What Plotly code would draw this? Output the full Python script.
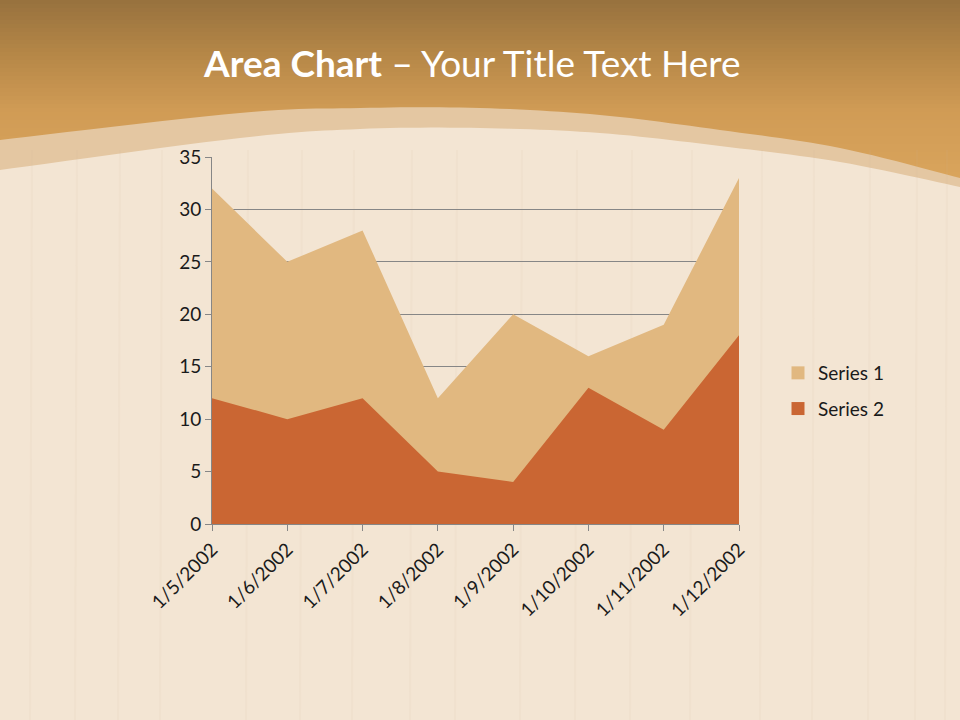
import plotly.graph_objects as go
import numpy as np

categories = ["1/5/2002", "1/6/2002", "1/7/2002", "1/8/2002",
              "1/9/2002", "1/10/2002", "1/11/2002", "1/12/2002"]
series1 = [32, 25, 28, 12, 20, 16, 19, 33]
series2 = [12, 10, 12, 5, 4, 13, 9, 18]
y_ticks = [0, 5, 10, 15, 20, 25, 30, 35]

W, H = 960, 720
L, R, T, B = 212, 739, 157, 524
FONT = "Lato"

def px(x):
    return (x - L) / (R - L)

def py(y):
    return (B - y) / (B - T)

def hexmix(c1, c2, t):
    a = [int(c1[i:i + 2], 16) for i in (1, 3, 5)]
    b = [int(c2[i:i + 2], 16) for i in (1, 3, 5)]
    return "#" + "".join(f"{round(a[k] + (b[k] - a[k]) * t):02x}" for k in range(3))

def grad_color(y):
    stops = [(0, "#97713e"), (60, "#b88948"), (110, "#d09b55"), (200, "#dca75e")]
    for (ya, ca), (yb, cb) in zip(stops, stops[1:]):
        if y <= yb:
            return hexmix(ca, cb, (y - ya) / (yb - ya))
    return stops[-1][1]

def smooth_path(pts, n=12):
    pts = [pts[0]] + pts + [pts[-1]]
    out = []
    for i in range(1, len(pts) - 2):
        p0, p1, p2, p3 = [np.array(p, float) for p in pts[i - 1:i + 3]]
        for t in np.linspace(0, 1, n, endpoint=False):
            t2, t3 = t * t, t * t * t
            q = 0.5 * ((2 * p1) + (-p0 + p2) * t + (2 * p0 - 5 * p1 + 4 * p2 - p3) * t2
                       + (-p0 + 3 * p1 - 3 * p2 + p3) * t3)
            out.append(q)
    out.append(np.array(pts[-2], float))
    return out

def arc_shape(pts, color):
    curve = smooth_path(pts)
    d = "M " + " L ".join(f"{px(x):.5f},{py(y):.5f}" for x, y in curve)
    d += f" L {px(W + 5):.5f},{py(H + 5):.5f} L {px(-5):.5f},{py(H + 5):.5f} Z"
    return dict(type="path", xref="paper", yref="paper", path=d,
                fillcolor=color, line=dict(width=0), layer="below")

shapes = []
# orange gradient header
steps = 50
for i in range(steps):
    y0 = i * 200 / steps
    y1 = (i + 1) * 200 / steps + 0.6
    shapes.append(dict(type="rect", xref="paper", yref="paper",
                       x0=px(-5), x1=px(W + 5), y0=py(y1), y1=py(y0),
                       fillcolor=grad_color((y0 + y1) / 2),
                       line=dict(width=0), layer="below"))

outer = [(-5, 141), (0, 140), (240, 113), (360, 108), (480, 108), (600, 115),
         (720, 130), (840, 148), (960, 178), (965, 179)]
inner = [(-5, 171), (0, 170), (240, 138), (360, 129), (480, 128), (600, 133),
         (720, 146), (840, 162), (960, 187), (965, 188)]
shapes.append(arc_shape(outer, "#e4c7a2"))
shapes.append(arc_shape(inner, "#f3e5d3"))

# subtle wood grain
grain_x = [30, 75, 118, 160, 246, 300, 352, 410, 455, 520, 575, 630, 690, 760, 812, 868, 915, 945]
for gx in grain_x:
    shapes.append(dict(type="line", xref="paper", yref="paper",
                       x0=px(gx), x1=px(gx + 2), y0=py(720), y1=py(150),
                       line=dict(color="rgba(205,180,150,0.08)", width=2), layer="below"))

x_idx = list(range(len(categories)))

fig = go.Figure()
fig.add_trace(go.Scatter(x=x_idx, y=series1, name="Series 1", mode="lines",
                         fill="tozeroy", fillcolor="#e1b880", line=dict(width=0, color="#e1b880"),
                         showlegend=False, hoverinfo="x+y"))
fig.add_trace(go.Scatter(x=x_idx, y=series2, name="Series 2", mode="lines",
                         fill="tozeroy", fillcolor="#ca6633", line=dict(width=0, color="#ca6633"),
                         showlegend=False, hoverinfo="x+y"))
for name, col in [("Series 1", "#e1b880"), ("Series 2", "#ca6633")]:
    fig.add_trace(go.Scatter(x=[None], y=[None], name=name, mode="markers",
                             marker=dict(symbol="square", size=13, color=col),
                             legendgroup=name, showlegend=True))

fig.update_layout(
    width=W, height=H,
    margin=dict(l=L, r=W - R, t=T, b=H - B),
    paper_bgcolor="#f2e3d0",
    plot_bgcolor="rgba(0,0,0,0)",
    shapes=shapes,
    showlegend=True,
    legend=dict(x=px(778), y=py(354), xanchor="left", yanchor="top",
                bgcolor="rgba(0,0,0,0)", font=dict(family=FONT, size=19, color="#1a1a1a"),
                tracegroupgap=8, itemwidth=30),
    annotations=[dict(xref="paper", yref="paper", x=px(472), y=py(62),
                      text="<b>Area Chart</b> – Your Title Text Here", showarrow=False,
                      font=dict(family=FONT, size=37, color="white"),
                      xanchor="center", yanchor="middle")],
)

fig.update_xaxes(range=[0, len(categories) - 1], tickvals=x_idx, ticktext=categories,
                 tickangle=-45, showgrid=False, showline=True, linecolor="#868686", linewidth=1,
                 ticks="outside", ticklen=6, tickcolor="#868686",
                 tickfont=dict(family=FONT, size=19, color="#1a1a1a"), zeroline=False,
                 fixedrange=True)
fig.update_yaxes(range=[0, 35], tickvals=y_ticks, showgrid=True, gridcolor="#868686", gridwidth=1,
                 showline=True, linecolor="#868686", linewidth=1, ticks="outside", ticklen=6,
                 tickcolor="#868686", tickfont=dict(family=FONT, size=19, color="#1a1a1a"),
                 zeroline=False, layer="below traces", fixedrange=True)

fig.write_html("out.html", config={"displayModeBar": False},
               post_script="document.body.style.margin='0';document.body.style.overflow='hidden';")
